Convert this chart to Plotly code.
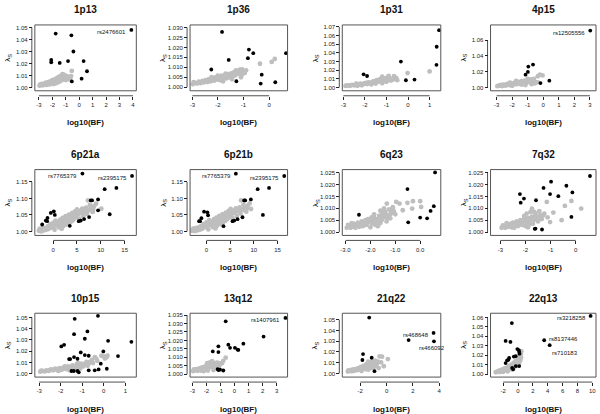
import plotly.graph_objects as go

# ------------------------------------------------------------------ data
panel_titles = ["1p13", "1p36", "1p31", "4p15", "6p21a", "6p21b",
                "6q23", "7q32", "10p15", "13q12", "21q22", "22q13"]

# black (highlighted) points: (log10(BF), lambda_s)
b_1p13 = [(3.88, 1.048), (-1.75, 1.045), (-0.58, 1.0435), (-0.43, 1.030), (-2.08, 1.023), (-2.08, 1.021),
          (-1.45, 1.0205), (-0.83, 1.022), (0.33, 1.022), (0.58, 1.0135), (-0.55, 1.005), (0.18, 1.0073)]
b_1p36 = [(-1.84, 1.0278), (-2.26, 1.0089), (-1.58, 1.0137), (-0.79, 1.0189), (-0.62, 1.0171), (-0.83, 1.0146),
          (0.66, 1.0171), (-1.28, 1.003), (-0.29, 1.0063), (-0.33, 1.0018), (0.24, 1.0025)]
b_1p31 = [(1.44, 1.0662), (1.33, 1.0471), (1.32, 1.0262), (-0.33, 1.030), (-2.06, 1.0152), (-1.90, 1.0133),
          (-0.10, 1.0084), (0.30, 1.0091)]
b_4p15 = [(3.02, 1.0719), (-0.66, 1.0292), (-0.96, 1.0266), (-0.99, 1.0199), (-1.14, 1.0165), (-0.18, 1.0059),
          (0.39, 1.0089)]
b_6p21a = [(16.54, 1.1684), (6.14, 1.1755), (10.8, 1.128), (13.26, 1.132), (7.89, 1.094), (8.16, 1.094),
           (9.42, 1.097), (9.42, 1.064), (11.86, 1.052), (0.14, 1.061), (-0.49, 1.056), (0.35, 1.050),
           (-1.19, 1.041), (-1.54, 1.033), (-1.26, 1.031), (-2.3, 1.021), (3.49, 1.017), (5.37, 1.031),
           (5.79, 1.033), (6.49, 1.0375), (7.54, 1.0436)]
b_6p21b = [(16.4, 1.168), (6.2, 1.175), (10.8, 1.128), (13.2, 1.132), (7.96, 1.094), (8.17, 1.094),
           (9.37, 1.097), (11.9, 1.05), (-0.5, 1.06), (0.2, 1.058), (0.35, 1.049), (-1.06, 1.040),
           (-1.55, 1.031), (-1.34, 1.031), (3.6, 1.016), (5.5, 1.031), (5.85, 1.033), (6.55, 1.037), (7.6, 1.043)]
b_6q23 = [(0.6, 1.0251), (-0.51, 1.0181), (-2.46, 1.0073), (-0.48, 1.0041), (0.0, 1.0061), (0.28, 1.0058),
          (0.42, 1.0089), (0.55, 1.0109)]
b_7q32 = [(0.57, 1.0236), (-0.98, 1.0212), (-1.28, 1.0186), (-0.37, 1.0195), (-0.13, 1.0167), (-1.02, 1.016),
          (-0.69, 1.0151), (-2.22, 1.016), (-2.06, 1.0141), (-2.19, 1.0124), (-1.58, 1.0134), (-0.17, 1.0064),
          (-1.63, 1.0014), (-1.60, 1.0015), (-1.34, 1.0011)]
b_10p15 = [(-0.27, 1.0515), (-1.35, 1.0488), (-0.76, 1.0376), (-1.38, 1.0352), (-0.88, 1.0311), (0.2, 1.0293),
           (1.28, 1.0284), (-1.84, 1.0257), (-1.97, 1.0243), (-0.02, 1.0198), (-1.07, 1.0189), (-0.88, 1.0166),
           (-0.7, 1.016), (0.66, 1.0157), (-1.38, 1.0148), (-1.22, 1.0133), (-1.61, 1.013), (-1.56, 1.013),
           (-0.14, 1.0089), (-1.5, 1.0024), (-1.39, 1.0024), (-1.22, 1.0024), (-1.16, 1.0012), (-0.7, 1.003),
           (-0.42, 1.003), (-0.24, 1.0038), (0.14, 1.0044)]
b_13q12 = [(3.63, 1.0333), (-0.63, 1.0313), (2.07, 1.0223), (0.63, 1.0181), (-0.44, 1.0175), (-0.32, 1.0156),
           (0.03, 1.0156), (0.22, 1.0146), (0.27, 1.0144), (-1.15, 1.0165), (-1.55, 1.0135), (-1.15, 1.0131),
           (-1.2, 1.003), (-1.15, 1.0025), (-1.03, 1.0027), (-0.8, 1.0022)]
b_21q22 = [(3.58, 1.0378), (3.61, 1.0299), (-1.32, 1.0521), (1.68, 1.0311), (-1.79, 1.018), (-1.84, 1.0125),
           (-1.13, 1.0146), (-0.92, 1.0021)]
b_22q13 = [(9.77, 1.0617), (3.52, 1.0359), (4.26, 1.0307), (-0.83, 1.0541), (-1.67, 1.0352), (-1.02, 1.0341),
           (-0.09, 1.0266), (0.1, 1.0255), (0.15, 1.0238), (0.2, 1.0217), (-0.32, 1.019), (-0.56, 1.0186),
           (-1.2, 1.0172), (-1.3, 1.0152), (-1.48, 1.0145), (-1.67, 1.0117), (-0.79, 1.0066), (-0.3, 1.0086),
           (0.15, 1.0086), (-0.65, 1.0052)]

# grey (background) points
g_1p13 = [(-2.95, 1.0015), (-2.85, 1.002), (-2.8, 1.003), (-2.7, 1.0018), (-2.6, 1.0028), (-2.5, 1.0022),
          (-2.45, 1.004), (-2.35, 1.003), (-2.3, 1.0045), (-2.2, 1.0025), (-2.15, 1.005), (-2.05, 1.0035),
          (-2.0, 1.006), (-1.95, 1.0045), (-1.9, 1.0028), (-1.85, 1.0065), (-1.8, 1.005), (-1.75, 1.0035),
          (-1.7, 1.0075), (-1.65, 1.006), (-1.6, 1.0042), (-1.55, 1.0085), (-1.5, 1.0068), (-1.45, 1.005),
          (-1.4, 1.0095), (-1.35, 1.0078), (-1.3, 1.006), (-1.25, 1.011), (-1.2, 1.0088), (-1.15, 1.007),
          (-1.1, 1.0105), (-1.05, 1.0082), (-1.0, 1.0062), (-0.95, 1.0095), (-0.9, 1.0075), (-0.8, 1.0088),
          (-0.75, 1.0068), (-0.65, 1.008), (-0.55, 1.0138), (-0.6, 1.0095),
          (-2.9, 1.0025), (-2.75, 1.0025), (-2.55, 1.0035), (-2.4, 1.0022), (-2.25, 1.0038), (-2.1, 1.0042),
          (-1.95, 1.0055), (-1.8, 1.004), (-1.7, 1.0055), (-1.55, 1.0055), (-1.45, 1.0085), (-1.3, 1.0098),
          (-1.2, 1.0075), (-1.1, 1.0092), (-0.85, 1.0082), (-1.35, 1.0065), (-1.6, 1.007), (-2.0, 1.0048)]
g_1p36 = [(-2.98, 1.0015), (-2.9, 1.0022), (-2.82, 1.0018), (-2.75, 1.0028), (-2.68, 1.002), (-2.6, 1.0032),
          (-2.55, 1.0024), (-2.48, 1.0036), (-2.4, 1.0026), (-2.35, 1.004), (-2.28, 1.003), (-2.2, 1.0045),
          (-2.15, 1.0033), (-2.08, 1.005), (-2.02, 1.0038), (-1.95, 1.0052), (-1.9, 1.0035), (-1.85, 1.0058),
          (-1.78, 1.0042), (-1.72, 1.006), (-1.66, 1.0045), (-1.6, 1.0065), (-1.55, 1.005), (-1.48, 1.007),
          (-1.42, 1.0055), (-1.38, 1.0075), (-1.32, 1.006), (-1.25, 1.008), (-1.2, 1.0068), (-1.15, 1.0088),
          (-1.1, 1.0072), (-1.05, 1.009), (-1.0, 1.0078), (-1.1, 1.005), (-1.45, 1.004), (-1.8, 1.003),
          (-0.36, 1.0118), (0.1, 1.0127), (0.22, 1.0142), (-0.9, 1.0085),
          (-2.95, 1.0025), (-2.7, 1.0025), (-2.5, 1.003), (-2.3, 1.0035), (-2.1, 1.0042), (-1.95, 1.0045),
          (-1.75, 1.005), (-1.6, 1.0055), (-1.5, 1.006), (-1.35, 1.0068), (-1.25, 1.007), (-1.15, 1.0078),
          (-1.3, 1.0085), (-1.7, 1.0068), (-2.0, 1.0058), (-2.25, 1.005), (-1.05, 1.0065), (-0.95, 1.0072)]
g_1p31 = [(-2.9, 1.0018), (-2.8, 1.0025), (-2.7, 1.002), (-2.6, 1.003), (-2.5, 1.0025), (-2.4, 1.0038),
          (-2.3, 1.003), (-2.2, 1.0045), (-2.1, 1.0035), (-2.0, 1.005), (-1.9, 1.004), (-1.8, 1.006),
          (-1.7, 1.0048), (-1.6, 1.0072), (-1.55, 1.0055), (-1.45, 1.0085), (-1.4, 1.0065), (-1.3, 1.0095),
          (-1.25, 1.007), (-1.15, 1.0105), (-1.1, 1.008), (-1.0, 1.011), (-0.95, 1.0085), (-0.85, 1.0105),
          (-0.8, 1.008), (-0.7, 1.0095), (-0.65, 1.013), (-0.55, 1.011), (-0.5, 1.0085), (-1.7, 1.0035),
          (-2.15, 1.0025), (-1.2, 1.005), (-0.02, 1.0167), (1.0, 1.0186), (-2.35, 1.002), (-1.2, 1.0125),
          (-0.9, 1.0135),
          (-2.85, 1.0022), (-2.65, 1.0025), (-2.45, 1.003), (-2.25, 1.0038), (-2.05, 1.0042), (-1.85, 1.005),
          (-1.65, 1.006), (-1.5, 1.007), (-1.35, 1.008), (-1.2, 1.009), (-1.05, 1.0095), (-0.9, 1.0095),
          (-0.75, 1.0088), (-0.6, 1.0098), (-1.5, 1.0045), (-1.9, 1.0055), (-2.4, 1.0045), (-1.0, 1.0065)]
g_4p15 = [(-2.95, 1.002), (-2.8, 1.003), (-2.65, 1.0022), (-2.55, 1.004), (-2.4, 1.0028), (-2.3, 1.005),
          (-2.15, 1.0032), (-2.05, 1.0058), (-1.9, 1.004), (-1.8, 1.0068), (-1.7, 1.0045), (-1.6, 1.0075),
          (-1.5, 1.005), (-1.4, 1.0082), (-1.3, 1.0055), (-1.2, 1.009), (-1.1, 1.006), (-1.0, 1.0095),
          (-0.9, 1.007), (-0.8, 1.0105), (-0.7, 1.0075), (-0.6, 1.011), (-0.5, 1.0072), (-0.35, 1.0068),
          (-0.22, 1.0165), (-0.35, 1.0145), (-1.15, 1.0035), (-2.0, 1.0025), (-0.75, 1.0045), (-0.05, 1.0155),
          (-2.85, 1.0025), (-2.7, 1.0035), (-2.5, 1.003), (-2.35, 1.0042), (-2.2, 1.004), (-2.0, 1.0048),
          (-1.85, 1.0052), (-1.65, 1.006), (-1.45, 1.0065), (-1.25, 1.007), (-1.05, 1.0078), (-0.85, 1.0085),
          (-0.65, 1.009), (-0.55, 1.0055), (-1.4, 1.004), (-1.75, 1.0085), (-2.15, 1.0065), (-1.0, 1.011)]
g_6p21a = [(-3.0, 1.002), (-2.6, 1.005), (-2.3, 1.009), (-2.1, 1.003), (-1.7, 1.011), (-1.5, 1.005),
           (-1.1, 1.016), (-1.0, 1.007), (-0.6, 1.021), (-0.5, 1.011), (0.0, 1.026), (0.0, 1.013),
           (0.3, 1.005), (0.5, 1.033), (0.6, 1.019), (1.0, 1.028), (1.2, 1.012), (1.5, 1.036),
           (1.6, 1.022), (2.0, 1.041), (2.1, 1.016), (2.4, 1.030), (2.6, 1.046), (2.8, 1.021),
           (3.0, 1.038), (3.3, 1.051), (3.5, 1.028), (3.8, 1.044), (4.0, 1.056), (4.2, 1.035),
           (4.6, 1.061), (4.7, 1.046), (5.0, 1.067), (5.2, 1.051), (5.4, 1.039), (5.6, 1.062),
           (5.9, 1.055), (6.1, 1.069), (6.3, 1.046), (6.6, 1.060), (6.9, 1.072), (7.1, 1.053),
           (7.3, 1.094), (7.4, 1.066), (7.7, 1.080), (8.0, 1.071), (8.3, 1.059), (8.6, 1.077),
           (9.0, 1.084), (10.1, 1.069), (1.8, 1.008), (-2.8, 1.008),
           (-2.5, 1.000), (-1.8, 1.004), (-1.2, 1.009), (-0.3, 1.017), (0.4, 1.024), (0.9, 1.020),
           (1.3, 1.029), (1.9, 1.030), (2.5, 1.037), (3.0, 1.025), (3.6, 1.040), (4.3, 1.048),
           (4.8, 1.055), (5.5, 1.058), (6.0, 1.061), (6.5, 1.066), (7.0, 1.062), (7.8, 1.064),
           (8.4, 1.068), (2.3, 1.022), (3.9, 1.031), (4.5, 1.040)]
g_6p21b = [(-3.0, 1.002), (-2.6, 1.006), (-2.3, 1.010), (-2.0, 1.003), (-1.7, 1.012), (-1.4, 1.005),
           (-1.1, 1.017), (-0.9, 1.008), (-0.6, 1.022), (-0.4, 1.012), (0.0, 1.027), (0.1, 1.014),
           (0.4, 1.006), (0.6, 1.034), (0.7, 1.020), (1.1, 1.029), (1.3, 1.013), (1.6, 1.037),
           (1.7, 1.023), (2.1, 1.042), (2.2, 1.017), (2.5, 1.031), (2.7, 1.047), (2.9, 1.022),
           (3.1, 1.039), (3.4, 1.052), (3.6, 1.029), (3.9, 1.045), (4.1, 1.057), (4.3, 1.036),
           (4.7, 1.062), (4.8, 1.047), (5.1, 1.068), (5.3, 1.052), (5.5, 1.040), (5.7, 1.063),
           (6.0, 1.056), (6.2, 1.070), (6.4, 1.047), (6.7, 1.061), (7.0, 1.073), (7.2, 1.054),
           (7.3, 1.094), (7.5, 1.067), (7.8, 1.081), (8.1, 1.072), (8.4, 1.060), (8.7, 1.078),
           (9.4, 1.068), (9.1, 1.085), (1.9, 1.009), (-2.8, 1.008),
           (-2.4, 1.001), (-1.7, 1.005), (-1.1, 1.010), (-0.2, 1.018), (0.5, 1.025), (1.0, 1.021),
           (1.4, 1.030), (2.0, 1.031), (2.6, 1.038), (3.1, 1.026), (3.7, 1.041), (4.4, 1.049),
           (4.9, 1.056), (5.6, 1.059), (6.1, 1.062), (6.6, 1.067), (7.1, 1.063), (7.9, 1.065),
           (8.5, 1.069), (2.4, 1.023), (4.0, 1.032), (4.6, 1.041)]
g_6q23 = [(-2.95, 1.0018), (-2.85, 1.0025), (-2.8, 1.0018), (-2.75, 1.003), (-2.7, 1.0022), (-2.65, 1.0035),
          (-2.6, 1.0018), (-2.55, 1.0028), (-2.5, 1.004), (-2.45, 1.0022), (-2.4, 1.0033), (-2.35, 1.0045),
          (-2.3, 1.0025), (-2.25, 1.0038), (-2.2, 1.005), (-2.15, 1.003), (-2.1, 1.0042), (-2.05, 1.0055),
          (-2.0, 1.002), (-1.95, 1.0035), (-1.9, 1.0048), (-1.85, 1.006), (-1.8, 1.003), (-1.75, 1.0042),
          (-1.7, 1.0055), (-1.65, 1.0068), (-1.6, 1.0038), (-1.55, 1.005), (-1.5, 1.0075), (-1.45, 1.0062),
          (-1.4, 1.0085), (-1.35, 1.0045), (-1.3, 1.007), (-1.25, 1.0095), (-1.2, 1.0058), (-1.15, 1.008),
          (-1.1, 1.0105), (-1.6, 1.009), (-1.85, 1.0075), (-1.7, 1.0025), (-1.34, 1.012), (-1.08, 1.0092),
          (-0.96, 1.0127), (-0.83, 1.012), (-0.7, 1.0092), (-0.51, 1.0123), (-0.29, 1.013), (-0.32, 1.0099),
          (0.0, 1.013), (0.04, 1.0106), (-1.28, 1.0064), (-1.0, 1.0075),
          (-2.9, 1.003), (-2.75, 1.0038), (-2.6, 1.0028), (-2.45, 1.0035), (-2.3, 1.004), (-2.15, 1.0042),
          (-2.0, 1.0048), (-1.9, 1.004), (-1.75, 1.0052), (-1.65, 1.0058), (-1.5, 1.0062), (-1.4, 1.007),
          (-1.3, 1.0058), (-1.2, 1.0075), (-1.55, 1.0085), (-1.95, 1.0062), (-2.1, 1.0055), (-1.45, 1.01),
          (-1.15, 1.0092), (-1.05, 1.0085)]
g_7q32 = [(-2.95, 1.0018), (-2.85, 1.0025), (-2.8, 1.0018), (-2.75, 1.003), (-2.68, 1.0022), (-2.6, 1.0035),
          (-2.55, 1.002), (-2.5, 1.004), (-2.42, 1.0028), (-2.35, 1.0045), (-2.3, 1.0025), (-2.25, 1.0035),
          (-2.2, 1.005), (-2.15, 1.003), (-2.1, 1.0042), (-2.05, 1.0058), (-2.0, 1.0025), (-1.95, 1.004),
          (-1.9, 1.006), (-1.85, 1.0032), (-1.8, 1.0048), (-1.75, 1.0065), (-1.7, 1.0035), (-1.65, 1.0052),
          (-1.6, 1.007), (-1.5, 1.0045), (-1.45, 1.006), (-1.35, 1.0055), (-2.45, 1.0018), (-1.9, 1.002),
          (-1.74, 1.0099), (-1.8, 1.0085), (-1.6, 1.0078), (-1.41, 1.0071), (-1.12, 1.0062), (-1.02, 1.0042),
          (-1.15, 1.0127), (-0.43, 1.011), (-0.17, 1.0131), (0.22, 1.0099), (-0.56, 1.005), (-0.89, 1.0082),
          (-1.54, 1.0056),
          (-2.9, 1.0028), (-2.75, 1.0038), (-2.6, 1.0025), (-2.45, 1.0035), (-2.3, 1.0038), (-2.15, 1.0042),
          (-2.0, 1.0048), (-1.85, 1.0052), (-1.7, 1.0058), (-1.55, 1.0062), (-1.4, 1.0065), (-1.3, 1.007),
          (-2.05, 1.0068), (-1.95, 1.0078), (-1.65, 1.0085), (-1.25, 1.0078), (-1.45, 1.0088)]
g_10p15 = [(-2.95, 1.0018), (-2.85, 1.0025), (-2.75, 1.002), (-2.65, 1.003), (-2.55, 1.0025), (-2.45, 1.0038),
           (-2.35, 1.003), (-2.25, 1.0045), (-2.15, 1.0032), (-2.05, 1.005), (-1.95, 1.0035), (-1.85, 1.0058),
           (-1.75, 1.004), (-1.65, 1.0065), (-1.55, 1.0045), (-1.45, 1.0075), (-1.35, 1.005), (-1.25, 1.0085),
           (-1.15, 1.006), (-1.05, 1.009), (-0.95, 1.0065), (-0.85, 1.0095), (-0.75, 1.007), (-0.65, 1.0105),
           (-0.55, 1.0124), (-0.42, 1.0148), (-0.11, 1.016), (0.17, 1.016), (0.05, 1.0135), (-0.3, 1.0115),
           (-2.1, 1.0025), (-1.6, 1.003), (-1.1, 1.0045),
           (-2.9, 1.0028), (-2.7, 1.0025), (-2.5, 1.0032), (-2.3, 1.0038), (-2.1, 1.004), (-1.9, 1.0048),
           (-1.7, 1.0052), (-1.5, 1.006), (-1.3, 1.0068), (-1.1, 1.0075), (-0.9, 1.008), (-0.7, 1.0088),
           (-0.5, 1.0095), (-1.2, 1.0095), (-0.8, 1.0105), (-1.8, 1.0065), (-1.4, 1.0035), (-0.35, 1.0135),
           (0.0, 1.0155), (0.12, 1.0145)]
g_13q12 = [(-2.95, 1.0018), (-2.8, 1.0025), (-2.65, 1.002), (-2.55, 1.003), (-2.45, 1.0025), (-2.35, 1.0035),
           (-2.25, 1.0028), (-2.15, 1.004), (-2.05, 1.003), (-2.0, 1.005), (-1.9, 1.0035), (-1.85, 1.006),
           (-1.8, 1.004), (-1.75, 1.007), (-1.65, 1.0045), (-1.6, 1.0078), (-1.5, 1.005), (-1.45, 1.0065),
           (-1.35, 1.0045), (-1.3, 1.0055), (-1.2, 1.004), (-1.5, 1.0025), (-2.2, 1.0018), (-1.03, 1.006),
           (-0.8, 1.0079), (-0.63, 1.0098), (-1.15, 1.0065), (-1.9, 1.0022),
           (-2.9, 1.0028), (-2.7, 1.003), (-2.5, 1.0035), (-2.3, 1.004), (-2.1, 1.0045), (-1.95, 1.0042),
           (-1.7, 1.0055), (-1.55, 1.006), (-1.4, 1.0058), (-1.25, 1.005), (-1.1, 1.0048), (-1.7, 1.0065),
           (-1.95, 1.0065), (-2.4, 1.0022), (-0.9, 1.0065), (-1.25, 1.0068)]
g_21q22 = [(-2.95, 1.0018), (-2.8, 1.0025), (-2.65, 1.002), (-2.55, 1.0032), (-2.45, 1.0025), (-2.35, 1.004),
           (-2.25, 1.003), (-2.15, 1.005), (-2.05, 1.0035), (-1.95, 1.006), (-1.85, 1.0042), (-1.75, 1.007),
           (-1.65, 1.005), (-1.55, 1.0085), (-1.45, 1.006), (-1.35, 1.0095), (-1.25, 1.007), (-1.15, 1.0105),
           (-1.05, 1.008), (-1.0, 1.0055), (-1.4, 1.0035), (-1.9, 1.0022), (-0.87, 1.0119), (-0.74, 1.0088),
           (-0.53, 1.0159), (-0.34, 1.0156), (0.1, 1.0134), (-0.42, 1.0104), (-0.21, 1.0067), (-0.6, 1.005),
           (-2.9, 1.0028), (-2.7, 1.0032), (-2.5, 1.0038), (-2.3, 1.004), (-2.1, 1.0042), (-1.9, 1.005),
           (-1.7, 1.0058), (-1.5, 1.0065), (-1.3, 1.0075), (-1.1, 1.009), (-0.95, 1.0095), (-1.2, 1.005),
           (-1.6, 1.004), (-0.8, 1.0065), (-1.4, 1.011), (-0.65, 1.011)]
g_22q13 = [(-3.0, 1.002), (-2.7, 1.003), (-2.5, 1.0022), (-2.4, 1.004), (-2.2, 1.003), (-2.1, 1.005),
           (-1.9, 1.0035), (-1.8, 1.006), (-1.6, 1.0045), (-1.5, 1.007), (-1.3, 1.005), (-1.2, 1.0085),
           (-1.0, 1.006), (-0.9, 1.01), (-0.7, 1.007), (-0.6, 1.012), (-0.4, 1.008), (-0.3, 1.014),
           (-0.1, 1.0095), (0.0, 1.016), (0.15, 1.012), (0.28, 1.018), (0.37, 1.021), (0.3, 1.0145),
           (-0.5, 1.0105), (-1.4, 1.003), (-2.0, 1.0025), (-0.2, 1.0118), (0.1, 1.019), (-0.8, 1.0048),
           (-2.8, 1.0025), (-2.6, 1.0035), (-2.3, 1.0035), (-2.0, 1.004), (-1.7, 1.005), (-1.4, 1.006),
           (-1.1, 1.007), (-0.8, 1.0085), (-0.5, 1.0085), (-0.2, 1.009), (0.1, 1.0105), (0.2, 1.0165),
           (-0.1, 1.013), (-0.4, 1.0125), (-0.7, 1.0095), (-1.1, 1.009), (0.4, 1.0175), (0.45, 1.024)]

# tick values
xt_1p13 = [-3, -2, -1, 0, 1, 2, 3, 4]
yt_1p13 = [1.00, 1.01, 1.02, 1.03, 1.04, 1.05]
xt_1p36 = [-3, -2, -1, 0]
yt_1p36 = [1.000, 1.005, 1.010, 1.015, 1.020, 1.025, 1.030]
xt_1p31 = [-3, -2, -1, 0, 1]
yt_1p31 = [1.00, 1.01, 1.02, 1.03, 1.04, 1.05, 1.06, 1.07]
xt_4p15 = [-3, -2, -1, 0, 1, 2, 3]
yt_4p15 = [1.00, 1.02, 1.04, 1.06]
xt_6p21 = [0, 5, 10, 15]
yt_6p21 = [1.00, 1.05, 1.10, 1.15]
xt_6q23 = [-3.0, -2.0, -1.0, 0.0]
yt_6q23 = [1.000, 1.005, 1.010, 1.015, 1.020, 1.025]
xt_7q32 = [-3, -2, -1, 0]
yt_7q32 = [1.000, 1.005, 1.010, 1.015, 1.020, 1.025]
xt_10p15 = [-3, -2, -1, 0, 1]
yt_10p15 = [1.00, 1.01, 1.02, 1.03, 1.04, 1.05]
xt_13q12 = [-3, -2, -1, 0, 1, 2, 3]
yt_13q12 = [1.000, 1.005, 1.010, 1.015, 1.020, 1.025, 1.030, 1.035]
xt_21q22 = [-2, 0, 2, 4]
yt_21q22 = [1.00, 1.01, 1.02, 1.03, 1.04, 1.05]
xt_22q13 = [-2, 0, 2, 4, 6, 8, 10]
yt_22q13 = [1.00, 1.01, 1.02, 1.03, 1.04, 1.05, 1.06]

# SNP labels: (text, index into black point list, placement)
lab_1p13 = [("rs2476601", 0, "left")]
lab_4p15 = [("rs12505556", 0, "left")]
lab_6p21a = [("rs2395175", 0, "left"), ("rs7765379", 1, "left")]
lab_6p21b = [("rs2395175", 0, "left"), ("rs7765379", 1, "left")]
lab_13q12 = [("rs1407961", 0, "left")]
lab_21q22 = [("rs468648", 0, "left"), ("rs466092", 1, "below")]
lab_22q13 = [("rs3218258", 0, "left"), ("rs8137446", 1, "right"), ("rs710183", 2, "belowright")]

# ------------------------------------------------------------------ panel configuration
panels = [
    dict(b=b_1p13, g=g_1p13, xt=xt_1p13, yt=yt_1p13, xf="d", yf=".2f", xr=[-3.3, 4.25], yr=[0.9972, 1.0522], lab=lab_1p13),
    dict(b=b_1p36, g=g_1p36, xt=xt_1p36, yt=yt_1p36, xf="d", yf=".3f", xr=[-3.09, 0.72], yr=[0.9982, 1.0313], lab=[]),
    dict(b=b_1p31, g=g_1p31, xt=xt_1p31, yt=yt_1p31, xf="d", yf=".2f", xr=[-3.05, 1.52], yr=[0.9962, 1.0723], lab=[]),
    dict(b=b_4p15, g=g_4p15, xt=xt_4p15, yt=yt_4p15, xf="d", yf=".2f", xr=[-3.39, 3.39], yr=[0.9962, 1.079], lab=lab_4p15),
    dict(b=b_6p21a, g=g_6p21a, xt=xt_6p21, yt=yt_6p21, xf="d", yf=".2f", xr=[-3.84, 17.44], yr=[0.9878, 1.1875], lab=lab_6p21a),
    dict(b=b_6p21b, g=g_6p21b, xt=xt_6p21, yt=yt_6p21, xf="d", yf=".2f", xr=[-3.45, 17.1], yr=[0.9878, 1.1875], lab=lab_6p21b),
    dict(b=b_6q23, g=g_6q23, xt=xt_6q23, yt=yt_6q23, xf=".1f", yf=".3f", xr=[-3.13, 0.83], yr=[0.9986, 1.0263], lab=[]),
    dict(b=b_7q32, g=g_7q32, xt=xt_7q32, yt=yt_7q32, xf="d", yf=".3f", xr=[-3.39, 0.81], yr=[0.9986, 1.0263], lab=[]),
    dict(b=b_10p15, g=g_10p15, xt=xt_10p15, yt=yt_10p15, xf="d", yf=".2f", xr=[-3.2, 1.51], yr=[0.997, 1.0538], lab=[]),
    dict(b=b_13q12, g=g_13q12, xt=xt_13q12, yt=yt_13q12, xf="d", yf=".3f", xr=[-3.17, 3.78], yr=[0.9983, 1.0361], lab=lab_13q12),
    dict(b=b_21q22, g=g_21q22, xt=xt_21q22, yt=yt_21q22, xf="d", yf=".2f", xr=[-3.37, 4.13], yr=[0.9966, 1.0561], lab=lab_21q22),
    dict(b=b_22q13, g=g_22q13, xt=xt_22q13, yt=yt_22q13, xf="d", yf=".2f", xr=[-3.7, 10.5], yr=[0.9969, 1.0645], lab=lab_22q13),
]

W, H = 600, 414
FONT = "Liberation Sans, Arial, Helvetica, sans-serif"
col_px = [(33, 135), (189, 287), (342, 441), (491, 597)]
row_px = [(24, 90), (169, 235), (313, 377)]

fig = go.Figure()
annotations, shapes = [], []
layout_axes = {}

for i, p in enumerate(panels):
    r, c = divmod(i, 4)
    x0, x1 = col_px[c]
    y0, y1 = row_px[r]
    n = "" if i == 0 else str(i + 1)
    xa, ya = "x" + n, "y" + n
    gx, gy = zip(*p["g"])
    bx, by = zip(*p["b"])
    fig.add_trace(go.Scatter(x=gx, y=gy, mode="markers", xaxis=xa, yaxis=ya, showlegend=False,
                             marker=dict(color="#BEBEBE", size=4.8, line=dict(width=0))))
    fig.add_trace(go.Scatter(x=bx, y=by, mode="markers", xaxis=xa, yaxis=ya, showlegend=False,
                             marker=dict(color="black", size=3.8, line=dict(width=0))))

    xpos = 1 - (y1 + 5) / H
    ypos = (x0 - 3) / W
    tickfont = dict(family=FONT, size=6, color="#222")
    layout_axes["xaxis" + n] = dict(
        domain=[x0 / W, x1 / W], range=p["xr"], anchor="free", position=xpos,
        tickvals=p["xt"], ticktext=[format(v, p["xf"]) if p["xf"] != "d" else str(int(v)) for v in p["xt"]],
        ticks="outside", ticklen=3, tickwidth=0.8, tickcolor="#222",
        showgrid=False, zeroline=False, showline=False, tickfont=tickfont, fixedrange=True)
    layout_axes["yaxis" + n] = dict(
        domain=[1 - y1 / H, 1 - y0 / H], range=p["yr"], anchor="free", position=ypos,
        tickvals=p["yt"], ticktext=[format(v, p["yf"]) for v in p["yt"]],
        ticks="outside", ticklen=3, tickwidth=0.8, tickcolor="#222",
        showgrid=False, zeroline=False, showline=False, tickfont=tickfont, fixedrange=True)

    # plot box
    shapes.append(dict(type="rect", xref=xa + " domain", yref=ya + " domain", x0=0, x1=1, y0=0, y1=1,
                       line=dict(color="#555", width=1)))
    # R-style axis lines from first to last tick
    shapes.append(dict(type="line", xref=xa, yref="paper", x0=p["xt"][0], x1=p["xt"][-1], y0=xpos, y1=xpos,
                       line=dict(color="#222", width=0.8)))
    shapes.append(dict(type="line", xref="paper", yref=ya, x0=ypos, x1=ypos, y0=p["yt"][0], y1=p["yt"][-1],
                       line=dict(color="#222", width=0.8)))

    cx = (x0 + x1) / 2 / W
    annotations.append(dict(text="<b>%s</b>" % panel_titles[i], x=cx, y=1 - (y0 - 15) / H, xref="paper",
                            yref="paper", showarrow=False, font=dict(family=FONT, size=10, color="#111"),
                            xanchor="center", yanchor="middle"))
    annotations.append(dict(text="<b>log10(BF)</b>", x=cx, y=1 - (y1 + 32) / H, xref="paper", yref="paper",
                            showarrow=False, font=dict(family=FONT, size=8, color="#111"),
                            xanchor="center", yanchor="middle"))
    annotations.append(dict(text="λ<sub>S</sub>", x=(x0 - 27) / W, y=1 - ((y0 + y1) / 2) / H, xref="paper",
                            yref="paper", showarrow=False, textangle=-90,
                            font=dict(family=FONT, size=8, color="#111"), xanchor="center", yanchor="middle"))

    for text, idx, pos in p["lab"]:
        a = dict(text=text, x=bx[idx], y=by[idx], xref=xa, yref=ya, showarrow=False,
                 font=dict(family=FONT, size=6, color="#111"))
        if pos == "left":
            a.update(xanchor="right", yanchor="middle", xshift=-3, yshift=-2)
        elif pos == "right":
            a.update(xanchor="left", yanchor="middle", xshift=3, yshift=1)
        elif pos == "below":
            a.update(xanchor="center", yanchor="top", yshift=-2, xshift=-2)
        else:
            a.update(xanchor="left", yanchor="top", xshift=0, yshift=-3)
        annotations.append(a)

fig.update_layout(
    width=W, height=H, margin=dict(l=0, r=0, t=0, b=0),
    paper_bgcolor="white", plot_bgcolor="white",
    annotations=annotations, shapes=shapes, showlegend=False,
    **layout_axes,
)

fig.write_html("out.html", config={"displayModeBar": False},
               post_script="document.body.style.margin='0px';document.body.style.overflow='hidden';")
